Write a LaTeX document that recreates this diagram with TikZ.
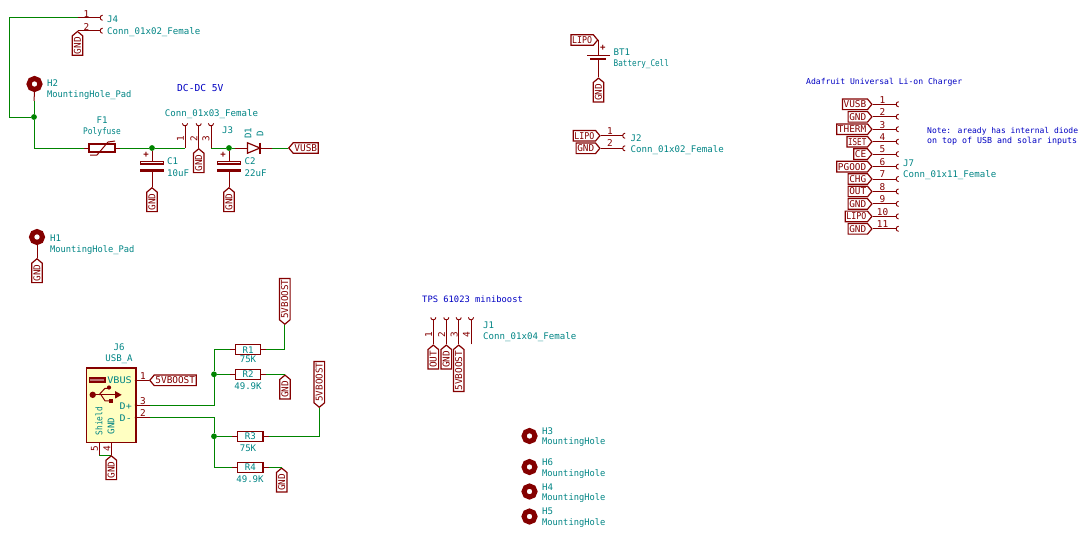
\documentclass[tikz,border=0pt]{standalone}
\usepackage{graphicx}
\usepackage{fontspec}
\setmainfont{DejaVu Sans Mono}
\usetikzlibrary{shapes.symbols}
\definecolor{kred}{HTML}{840000}
\definecolor{kgrn}{HTML}{008400}
\definecolor{kteal}{HTML}{008484}
\definecolor{kblue}{HTML}{0000C2}
\definecolor{kyel}{HTML}{FFFFC2}
\newcommand{\squeeze}[2]{\scalebox{#1}[1]{#2}}
\tikzset{
  wire/.style={draw=kgrn,line width=1pt},
  pinl/.style={draw=kred,line width=1pt},
  body/.style={draw=kred,line width=1.2pt},
  jun/.style={circle,fill=kgrn,inner sep=0pt,minimum size=5.8pt},
  glab/.style={signal,draw=kred,line width=1.2pt,fill=white,text=kred,font=\fontsize{9.4}{9}\selectfont,
     inner xsep=1.2pt,inner ysep=0pt,minimum height=10.6pt,signal pointer angle=100},
  glw/.style={glab,signal to=west,anchor=west},
  gle/.style={glab,signal to=east,anchor=east},
  gtop/.style={glab,rotate=90,signal to=east,anchor=east},
  gbot/.style={glab,rotate=90,signal to=west,anchor=west},
  ref/.style={text=kteal,font=\fontsize{9.1}{9}\selectfont,anchor=west,inner sep=0pt},
  refc/.style={ref,anchor=center},
  num/.style={text=kred,font=\fontsize{9.4}{9}\selectfont,inner sep=0pt},
  resb/.style={rectangle,draw=kred,line width=1.2pt,fill=white,minimum width=24.5pt,minimum height=10pt,inner sep=0pt,text=kteal,font=\fontsize{9.1}{9}\selectfont},
  hole/.style={circle,draw=kred,line width=5pt,fill=white,minimum size=11pt,inner sep=0pt},
  note/.style={text=kblue,anchor=west,inner sep=0pt},
}
\newcommand{\sockR}[2]{\draw[pinl,line width=.9pt] (#1+2.6,#2-2.6) .. controls (#1-.6,#2-2.4) and (#1-.6,#2+2.4) .. (#1+2.6,#2+2.6);}
\newcommand{\sockU}[2]{\draw[pinl,line width=.9pt] (#1-2.6,#2-2.6) .. controls (#1-2.4,#2+.6) and (#1+2.4,#2+.6) .. (#1+2.6,#2-2.6);}
\begin{document}
\begin{tikzpicture}[x=1pt,y=-1pt]
\useasboundingbox (0,0) rectangle (1091,550);
% ---------- J4
\coordinate (j4a) at (78,17.7); \coordinate (j4as) at (100,17.7);
\coordinate (j4b) at (77.5,30.7); \coordinate (j4bs) at (100,30.7);
\coordinate (nwc) at (9,17.7); \coordinate (swc) at (9,117);
\node[jun] (ja) at (34,117) {};
\draw[wire] (j4a) -- (nwc) -- (swc) -- (ja);
\draw[pinl] (j4a) -- (j4as); \sockR{100}{17.7}
\draw[pinl] (j4b) -- (j4bs); \sockR{100}{30.7}
\node[gtop] (g1) at (j4b) {GND};
\node[num] at (86.5,14) {1}; \node[num] at (86.5,27) {2};
\node[ref] at (107,19.5) {J4}; \node[ref] at (107,32.5) {Conn\_01x02\_Female};
% ---------- H2
\node[hole] (H2) at (34.5,84) {};
\coordinate (h2w) at (34,101);
\draw[pinl] (H2.south) -- (h2w);
\draw[wire] (h2w) -- (ja);
\node[ref] at (47,83) {H2}; \node[ref] at (47,95) {\squeeze{.96}{MountingHole\_Pad}};
% ---------- F1
\node[rectangle,draw=kred,line width=1.1pt,minimum width=26pt,minimum height=8pt,inner sep=0pt] (F1) at (102,148) {};
\draw[pinl] (90,155) -- (97,155) -- (108,142) -- (115,141);
\coordinate (f1l) at (84,148); \coordinate (f1r) at (120,148);
\draw[pinl] (f1l) -- (F1.west) (F1.east) -- (f1r);
\coordinate (ac) at (34,148);
\draw[wire] (ja) -- (ac) -- (f1l);
\node[jun] (jb) at (152,148) {};
\coordinate (j3a) at (185,148); \coordinate (j3at) at (185,126);
\draw[wire] (f1r) -- (jb) -- (j3a);
\node[refc] at (102,120) {F1}; \node[refc] at (102,132) {\squeeze{.86}{Polyfuse}};
% ---------- C1
\coordinate (c1a) at (152,161); \coordinate (c1b) at (152,172);
\draw[pinl] (jb) -- (c1a) (c1b) -- (152,187);
\draw[body,fill=white] (140.5,161.5) rectangle (163.5,164);
\fill[kred] (140,169) rectangle (164,172);
\node[num,font=\bfseries\fontsize{9}{9}\selectfont] at (146,155) {+};
\node[gtop] (g2) at (152,187) {GND};
\node[ref] at (167,161.5) {C1}; \node[ref] at (167,173.5) {10uF};
% ---------- J3
\node[refc] at (211.5,114) {Conn\_01x03\_Female};
\node[note,font=\fontsize{9.6}{10}\selectfont] at (177,88) {DC-DC 5V};
\draw[pinl] (j3a) -- (j3at); \sockU{185}{126}
\coordinate (j3bt) at (198.7,126); \coordinate (j3b) at (198.7,148);
\draw[pinl] (j3b) -- (j3bt); \sockU{198.7}{126}
\node[gtop] (g3) at (j3b) {GND};
\coordinate (j3ct) at (211,126); \coordinate (j3c) at (211,148);
\draw[pinl] (j3c) -- (j3ct); \sockU{211}{126}
\node[num,rotate=90] at (180.5,139) {1};
\node[num,rotate=90] at (194,139) {2};
\node[num,rotate=90] at (206,139) {3};
\node[ref] at (222,130.5) {J3};
% ---------- C2
\node[jun] (jc) at (229,148) {};
\coordinate (d1a) at (235,148);
\draw[wire] (j3c) -- (jc) -- (d1a);
\draw[pinl] (jc) -- (229,161) (229,172) -- (229,187);
\draw[body,fill=white] (217.5,161.5) rectangle (240.5,164);
\fill[kred] (217,169) rectangle (241,172);
\node[num,font=\bfseries\fontsize{9}{9}\selectfont] at (223,155) {+};
\node[gtop] (g4) at (229,187) {GND};
\node[ref] at (244.5,161.5) {C2}; \node[ref] at (244.5,173.5) {22uF};
% ---------- D1
\draw[pinl] (d1a) -- (272,148);
\draw[body,fill=white] (247.5,142.8) -- (260,148) -- (247.5,153.2) -- cycle;
\draw[body] (260,142.5) -- (260,153.5);
\node[ref,rotate=90,anchor=center] at (248,133) {D1};
\node[ref,rotate=90,anchor=center] at (260,134) {D};
\node[glw] (VU) at (288,148) {VUSB};
\draw[wire] (272,148) -- (VU.west);
% ---------- H1
\node[hole] (H1) at (37,237) {};
\node[gtop] (g5) at (37,258) {GND};
\draw[pinl] (H1.south) -- (g5.east);
\node[ref] at (50,238) {H1}; \node[ref] at (50,250) {\squeeze{.96}{MountingHole\_Pad}};
% ---------- J6
\node[refc] at (119,347) {J6}; \node[refc] at (119,359) {USB\_A};
\draw[body,fill=kyel] (86.7,368) rectangle (136,442.7);
\draw[body,fill=kred!55!white] (89.5,377.3) rectangle (105,382.5);
\fill[kred] (89.5,377.3) rectangle (105,378.8);\fill[kred] (89.5,381) rectangle (105,382.5);
\fill[kred] (92.7,394.8) circle (3.2);
\draw[pinl] (92.7,394.8) -- (116,394.8);
\fill[kred] (115,391) -- (121.7,394.8) -- (115,398.6) -- cycle;
\draw[pinl] (99,394.8) -- (105,388.3) -- (108,388.3);
\fill[kred] (109,387.5) circle (2.1);
\draw[pinl] (101,394.8) -- (105,400.8) -- (109,400.8);
\fill[kred] (109,398.8) rectangle (113,402.8);
\node[ref,anchor=east] at (132,380.5) {\squeeze{1.12}{VBUS}};
\node[ref,anchor=east] at (132,406) {\squeeze{1.1}{D+}};
\node[ref,anchor=east] at (132,418.5) {\squeeze{1.1}{D-}};
\node[ref,rotate=90,anchor=center] at (99,421) {\squeeze{.86}{Shield}};
\node[ref,rotate=90,anchor=center] at (111,426) {GND};
\coordinate (vb) at (136,380.3);
\node[glw] (lb1) at (149,380.3) {5VBOOST};
\draw[pinl] (vb) -- (lb1.west);
\node[num] at (143,376) {1}; \node[num] at (143,401) {3}; \node[num] at (143,413) {2};
\coordinate (dp) at (136,405); \coordinate (dps) at (150,405);
\coordinate (dm) at (136,417.7); \coordinate (dms) at (150,417.7);
\draw[pinl] (dp) -- (dps) (dm) -- (dms);
\fill[kred] (136,380.3) circle (1.3) (136,405) circle (1.3) (136,417.7) circle (1.3);
% pins 4 and 5
\coordinate (p5) at (99.3,455); \coordinate (p4) at (111.3,455);
\draw[pinl] (99.3,442.7) -- (p5) (111.3,442.7) -- (p4);
\draw[wire] (p5) -- (p4);
\node[gtop] (g6) at (p4) {GND};
\node[num,rotate=90] at (94.5,449) {5}; \node[num,rotate=90] at (107,449) {4};
% ---------- resistors
\node[jun] (jd) at (214,374.3) {};
\node[jun] (je) at (214,436.3) {};
\node[resb] (R1) at (248,349.7) {R1};
\node[resb] (R2) at (248,374.3) {R2};
\node[resb,minimum width=25.5pt] (R3) at (250.3,436.3) {R3};
\node[resb,minimum width=25.5pt] (R4) at (250.3,467.3) {R4};
\coordinate (r1l) at (230,349.7); \coordinate (r1r) at (266,349.7);
\coordinate (r2l) at (230,374.3); \coordinate (r2r) at (266,374.3);
\coordinate (r3l) at (232,436.3); \coordinate (r3r) at (269,436.3);
\coordinate (r4l) at (232,467.3); \coordinate (r4r) at (269,467.3);
\draw[pinl] (r1l) -- (R1.west) (R1.east) -- (r1r);
\draw[pinl] (r2l) -- (R2.west) (R2.east) -- (r2r);
\draw[pinl] (r3l) -- (R3.west) (R3.east) -- (r3r);
\draw[pinl] (r4l) -- (R4.west) (R4.east) -- (r4r);
\node[gbot] (lb2) at (284.8,325) {\squeeze{.98}{5VBOOST}};
\node[gbot] (lb3) at (319.3,408) {\squeeze{.98}{5VBOOST}};
\node[gtop] (g7) at (285,374.3) {GND};
\node[gtop] (g8) at (281.7,467.3) {GND};
\draw[wire] (dps) -- (214,405) -- (jd) -- (214,349.7) -- (r1l);
\draw[wire] (jd) -- (r2l);
\draw[wire] (dms) -- (214,417.7) -- (je) -- (214,467.3) -- (r4l);
\draw[wire] (je) -- (r3l);
\draw[wire] (r1r) -- (284.8,349.7) -- (lb2.west);
\draw[wire] (r2r) -- (g7.east);
\draw[wire] (r3r) -- (319.3,436.3) -- (lb3.west);
\draw[wire] (r4r) -- (g8.east);
\node[refc] at (248,359.5) {75K};
\node[refc] at (248,386) {49.9K};
\node[refc] at (248,448) {75K};
\node[refc] at (250,479) {49.9K};
% ---------- BT1
\node[gle] (LP) at (598.5,40) {\squeeze{.88}{LIPO}};
\draw[pinl] (LP.east) -- (598.5,55.7);
\draw[body] (587,55.7) -- (610,55.7);
\fill[kred] (590,58.2) rectangle (606,60.4);
\node[gtop] (g9) at (598.5,77.3) {GND};
\draw[pinl] (598.5,60) -- (g9.east);
\node[num,font=\bfseries\fontsize{9}{9}\selectfont] at (602.7,48) {+};
\node[ref] at (613.5,52) {BT1}; \node[ref] at (613.5,64) {\squeeze{.84}{Battery\_Cell}};
% ---------- J2
\node[gle] (LP2) at (600.7,135.7) {\squeeze{.88}{LIPO}};
\node[gle] (G2) at (600.7,148.3) {GND};
\draw[pinl] (LP2.east) -- (622.5,135.7); \sockR{622.5}{135.7}
\draw[pinl] (G2.east) -- (622.5,148.3); \sockR{622.5}{148.3}
\node[num] at (610,131) {1}; \node[num] at (610,143) {2};
\node[ref] at (630.5,138) {J2}; \node[ref] at (630.5,150.5) {Conn\_01x02\_Female};
% ---------- J7
\node[note,font=\fontsize{8.1}{9}\selectfont] at (806,82) {Adafruit Universal Li-on Charger};
\node[note,font=\fontsize{8.0}{9}\selectfont] at (927,131) {Note: aready has internal diode};
\node[note,font=\fontsize{8.3}{9}\selectfont] at (927,141) {on top of USB and solar inputs};
\foreach \yy/\lab/\n in {104.3/VUSB/1,116.8/GND/2,129.2/THERM/3,141.7/{\squeeze{.8}{ISET}}/4,154.1/CE/5,166.6/PGOOD/6,179/CHG/7,191.5/OUT/8,203.9/GND/9,216.4/{\squeeze{.88}{LIPO}}/10,228.8/GND/11}{
  \node[gle] (L\n) at (872.7,\yy) {\lab};
  \draw[pinl] (L\n.east) -- (896,\yy);
  \sockR{896}{\yy}
  \node[num] at (882.5,\yy-4.5) {\n};
}
\node[ref] at (903,163.5) {J7}; \node[ref] at (903,175.5) {Conn\_01x11\_Female};
% ---------- J1
\node[note,font=\fontsize{8.8}{9}\selectfont] at (422,299) {TPS 61023 miniboost};
\foreach \xx/\n in {433.3/1,446.3/2,458.7/3,471/4}{
  \sockU{\xx}{320}
  \node[num,rotate=90] at (\xx-4.6,334.7) {\n};
}
\node[gtop] (o1) at (433.3,344.3) {OUT};
\node[gtop] (o2) at (446.3,344.3) {GND};
\node[gtop] (o3) at (458.7,344.3) {5VBOOST};
\draw[pinl] (o1.east) -- (433.3,320);
\draw[pinl] (o2.east) -- (446.3,320);
\draw[pinl] (o3.east) -- (458.7,320);
\coordinate (o4) at (471,344.3);
\draw[pinl] (o4) -- (471,320);
\node[ref] at (483,325.5) {J1}; \node[ref] at (483,337.5) {Conn\_01x04\_Female};
% ---------- holes
\foreach \yy/\nm/\ya/\yb in {436/H3/431/442,467/H6/462/473.5,491.5/H4/487/498,516.5/H5/511.5/523}{
  \node[hole] (\nm) at (529.5,\yy) {};
  \node[ref] at (542,\ya) {\nm};
  \node[ref] at (542,\yb) {\squeeze{.96}{MountingHole}};
}
\end{tikzpicture}
\end{document}
